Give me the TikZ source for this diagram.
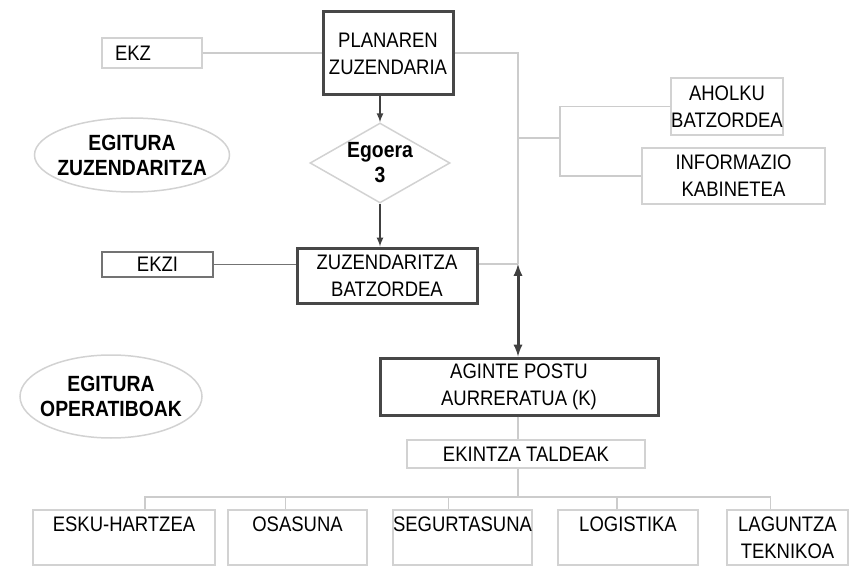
\documentclass[tikz,border=0pt]{standalone}
\usepackage{fontspec}
\setmainfont{Liberation Sans}[FakeStretch=0.88]
\usetikzlibrary{shapes.geometric}

\begin{document}
\begin{tikzpicture}[x=1pt, y=-1pt, >=latex,
    every node/.style={font=\fontsize{21}{27}\selectfont, align=center},
    headbox/.style={draw=black!72, line width=3pt, rectangle, inner sep=0pt},
    lightbox/.style={draw=gray!35, line width=1.5pt, rectangle, inner sep=0pt},
    midbox/.style={draw=black!55, line width=2.2pt, rectangle, inner sep=0pt},
    roundlabel/.style={draw=gray!35, line width=1.5pt, ellipse, inner xsep=-12pt,
      font=\fontsize{22}{25}\selectfont\bfseries},
    thinline/.style={draw=gray!40, line width=1.5pt},
    arrowline/.style={draw=black!75, line width=2pt, ->}]
    \useasboundingbox (0, 0) rectangle (849, 567);

    \node[headbox, minimum width=130, minimum height=83] (plan) at (388, 53.5)
      {PLANAREN\\ZUZENDARIA};
    \node[lightbox, minimum width=100, minimum height=30, text width=74,
      inner xsep=13pt, align=left] (ekz) at (152, 53) {EKZ};
    \node[lightbox, diamond, minimum width=140, minimum height=80, aspect=1.75,
      font=\fontsize{22}{25}\selectfont\bfseries] (egoera) at (380, 163) {Egoera\\3};
    \node[roundlabel, minimum width=195, minimum height=74] (ezk) at (132, 155)
      {EGITURA\\ZUZENDARITZA};
    \node[headbox, minimum width=180, minimum height=55] (zuz) at (387, 275.5)
      {ZUZENDARITZA\\BATZORDEA};
    \node[midbox, minimum width=111, minimum height=25] (ekzi) at (157.5, 264.5) {EKZI};
    \node[lightbox, minimum width=110, minimum height=57] (aholku) at (727, 106.5)
      {AHOLKU\\BATZORDEA};
    \node[lightbox, minimum width=183, minimum height=56] (info) at (733.5, 176)
      {INFORMAZIO\\KABINETEA};
    \node[roundlabel, minimum width=182, minimum height=83] (eop) at (111, 396.5)
      {EGITURA\\OPERATIBOAK};
    \node[headbox, minimum width=278, minimum height=57] (agint) at (519, 386.5)
      {AGINTE POSTU\\AURRERATUA (K)};
    \node[lightbox, minimum width=238, minimum height=28] (ekin) at (526, 454)
      {EKINTZA TALDEAK};

    \foreach \n/\x/\w/\t in {esku/124/182/ESKU-HARTZEA, osa/297.5/139/OSASUNA,
        seg/462.5/139/SEGURTASUNA, log/628/140/LOGISTIKA} {
      \node[lightbox, minimum width=\w, minimum height=55] (\n) at (\x, 537.5)
        {\t\\\phantom{X}};
    }
    \node[lightbox, minimum width=121, minimum height=55] (lag) at (787.5, 537.5)
      {LAGUNTZA\\TEKNIKOA};

    \coordinate (trunk) at (518, 53);
    \coordinate (jn) at (518, 264);
    \coordinate (br) at (518, 138);
    \coordinate (brx) at (560, 138);
    \coordinate (bus) at (518, 497);

    \draw[thinline] (ekz.east) -- (ekz.east -| plan.west);
    \draw[thinline] (plan.east |- trunk) -- (trunk) -- (jn);
    \draw[thinline] (br) -- (brx);
    \draw[thinline] (aholku.west) -| (brx) |- (info.west);
    \draw[arrowline] (plan.south -| egoera) -- (egoera.north);
    \draw[arrowline] (egoera.south) -- (zuz.north -| egoera);
    \draw[draw=black!55, line width=1.5pt] (ekzi.east) -- (ekzi.east -| zuz.west);
    \draw[thinline] (jn -| zuz.east) -- (jn);
    \draw[draw=black!75, line width=3pt, <->] (jn) -- (agint.north -| jn);

    \draw[thinline] (agint.south -| jn) -- (ekin.north -| jn);
    \draw[thinline] (ekin.south -| jn) -- (bus);
    \foreach \n/\dx in {esku/21, osa/-12, seg/-14, log/-11, lag/-17} {
      \draw[thinline] ([xshift=\dx pt]\n.north) |- (bus);
    }
  \end{tikzpicture}
\end{document}
